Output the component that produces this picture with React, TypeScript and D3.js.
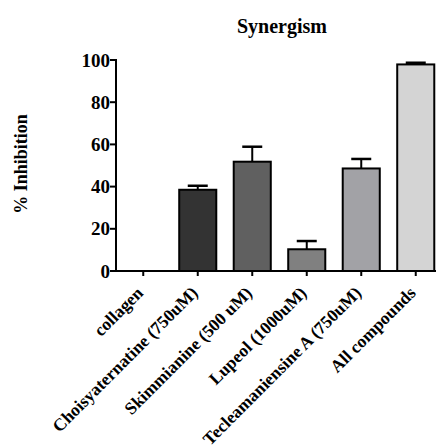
import React from 'react';
import * as d3 from 'd3';

const categories = ['collagen', 'Choisyaternatine (750uM)', 'Skimmianine (500 uM)', 'Lupeol (1000uM)', 'Tecleamaniensine A (750uM)', 'All compounds'];
const means = [0, 38.5, 51.8, 10.3, 48.6, 97.9];
const errors = [0, 1.9, 7.1, 3.9, 4.5, 0.8];
const fills = ['#ffffff', '#333333', '#606060', '#808080', '#a2a2a6', '#d4d4d4'];
const yTicks = [0, 20, 40, 60, 80, 100];

const App = () => {
  const width = 440, height = 446;
  const left = 116, right = 443, top = 60, bottom = 271;
  const font = '"Liberation Serif", "Times New Roman", serif';

  const x = d3.scaleBand().domain(categories).range([left, right]).paddingInner(0.32).paddingOuter(0.16);
  const y = d3.scaleLinear().domain([0, 100]).range([bottom, top]);
  const bw = x.bandwidth();

  return (
    <svg width={width} height={height} style={{ position: 'absolute', left: 0, top: 0 }}>
      <rect width={width} height={height} fill="#fff" />
      <text x={282} y={33} textAnchor="middle" fontFamily={font} fontWeight="bold" fontSize={20}>Synergism</text>
      <text transform={`translate(27, 164) rotate(-90)`} textAnchor="middle" fontFamily={font} fontWeight="bold" fontSize={18}>% Inhibition</text>

      {/* bars + error bars */}
      {categories.map((c, i) => {
        const cx = x(c)! + bw / 2;
        if (means[i] === 0) return null;
        return (
          <g key={c}>
            <line x1={cx} x2={cx} y1={y(means[i])} y2={y(means[i] + errors[i])} stroke="#000" strokeWidth={2} />
            <line x1={cx - 10} x2={cx + 10} y1={y(means[i] + errors[i])} y2={y(means[i] + errors[i])} stroke="#000" strokeWidth={2.5} />
            <rect x={x(c)} y={y(means[i])} width={bw} height={bottom - y(means[i])} fill={fills[i]} stroke="#000" strokeWidth={2} />
          </g>
        );
      })}

      {/* y axis */}
      <line x1={left} x2={left} y1={top - 1} y2={bottom + 1} stroke="#000" strokeWidth={2} />
      {yTicks.map(t => (
        <g key={t}>
          <line x1={left - 6} x2={left} y1={y(t)} y2={y(t)} stroke="#000" strokeWidth={2} />
          <text x={left - 6} y={y(t)} dy="0.35em" textAnchor="end" fontFamily={font} fontWeight="bold" fontSize={19}>{t}</text>
        </g>
      ))}

      {/* x axis */}
      <line x1={left} x2={436} y1={bottom} y2={bottom} stroke="#000" strokeWidth={2} />
      {categories.map(c => {
        const cx = x(c)! + bw / 2;
        return (
          <g key={c}>
            <line x1={cx} x2={cx} y1={bottom} y2={bottom + 5} stroke="#000" strokeWidth={2} />
            <text transform={`translate(${cx + 1}, ${bottom + 23}) rotate(-45)`} textAnchor="end" fontFamily={font} fontWeight="bold" fontSize={17.5}>{c}</text>
          </g>
        );
      })}
    </svg>
  );
};

export default App;
